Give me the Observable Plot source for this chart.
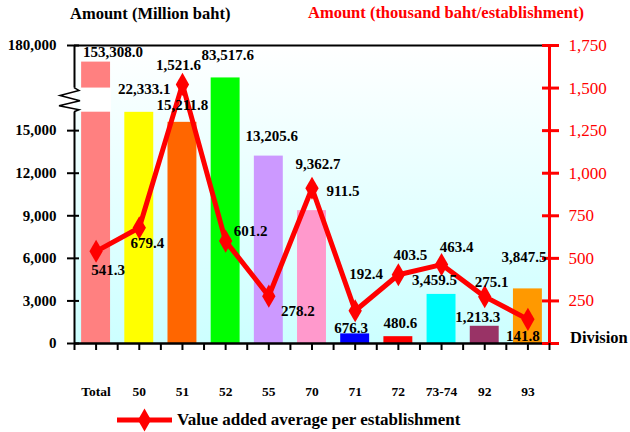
<!DOCTYPE html>
<html><head><meta charset="utf-8">
<script src="https://cdn.jsdelivr.net/npm/d3@7"></script>
<script src="https://cdn.jsdelivr.net/npm/@observablehq/plot@0.6"></script>
<style>
body{margin:0;background:#fff;}
#wrap{position:relative;width:630px;height:432px;font-family:"Liberation Serif","Times New Roman",serif;overflow:hidden;}
.t{position:absolute;font-weight:bold;white-space:nowrap;line-height:1;}
#wrap svg{position:absolute;left:0;top:0;}
</style></head><body><div id="wrap"></div>
<script>
// ---- data ----
const categories = ["Total","50","51","52","55","70","71","72","73-74","92","93"];
const valueAdded = [153308.0, 22333.1, 15211.8, 83517.6, 13205.6, 9362.7, 676.3, 480.6, 3459.5, 1213.3, 3847.5];          // million baht
const avgPerEstablishment = [541.3, 679.4, 1521.6, 601.2, 278.2, 911.5, 192.4, 403.5, 463.4, 275.1, 141.8]; // thousand baht/establishment
const barColors = ["#ff8080","#ffff00","#ff6600","#00ff00","#cc99ff","#ff99cc","#0000ff","#ff0000","#00ffff","#993366","#ff9900"];
const leftTicks = [0, 3000, 6000, 9000, 12000, 15000];
const leftTopTickLabel = "180,000";
const rightTicks = [0, 250, 500, 750, 1000, 1250, 1500, 1750];

// label nudges in px (layout only)
const barLabelNudge = [[17,-10],[5,-23],[0,-17],[2,-23],[3,-20],[6,-46],[-4,-6],[2,-13],[-7,-14],[-7,-9],[-4,-32]];
const avgLabelNudge = [[12,19],[8,15],[-4,-19],[25,-10],[29,15],[31,3],[11,-37],[12,-20],[15,-17],[7,-14],[-5,17]];

// ---- scale helpers ----
const leftMax = 21000;               // left axis extent (shown as broken "180,000")
const ratio = leftMax / 1750;        // left units per right-axis unit
const breakAt = 15000, breakLow = 16300, breakHigh = 18000;
// broken axis: linear up to 15,000, compressed (log) above the break
const brk = v => v <= breakAt ? v : breakAt + 560 + 4230 * Math.log10(v / breakAt);
const half = 0.335;

const data = categories.map((c, i) => ({i, cat: c, value: valueAdded[i], avg: avgPerEstablishment[i], color: barColors[i]}));
const fmt1 = d3.format(",.1f");
const bold = {fontWeight: "bold", fontSize: 15, fill: "black"};

const marks = [
  Plot.frame({fill: "url(#bgGrad)", stroke: "none"}),
  Plot.rectY(data, {x1: d => d.i - half, x2: d => d.i + half, y1: 0, y2: d => brk(d.value), fill: d => d.color}),
  Plot.rectY([data[0]], {x1: d => d.i - half - 0.02, x2: d => d.i + half + 0.02, y1: breakLow, y2: breakHigh, fill: "white"}),
  Plot.ruleY([leftMax], {stroke: "black", strokeWidth: 2}),
  Plot.ruleX([-0.5], {y1: 0, y2: breakLow, stroke: "black", strokeWidth: 2}),
  Plot.ruleX([-0.5], {y1: breakHigh, y2: leftMax, stroke: "black", strokeWidth: 2}),
  Plot.ruleY([0], {stroke: "black", strokeWidth: 2.5}),
  Plot.ruleX([10.5], {y1: 0, y2: leftMax, stroke: "red", strokeWidth: 3}),
  // left axis
  Plot.axisY({anchor: "left", label: null, ticks: leftTicks, tickSize: 12, dx: 5, tickPadding: 11, strokeWidth: 2,
    tickFormat: d3.format(","), fontSize: 15, fontWeight: "bold", color: "black"}),
  Plot.axisY({anchor: "left", label: null, ticks: [leftMax], tickSize: 12, dx: 5, tickPadding: 11, strokeWidth: 2,
    tickFormat: () => leftTopTickLabel, fontSize: 15, fontWeight: "bold", color: "black"}),
  // right axis (0 is left unlabeled, as in the original)
  Plot.axisY({anchor: "right", label: null, ticks: rightTicks.map(t => t * ratio), tickSize: 17, dx: -8, tickPadding: 10, strokeWidth: 3,
    tickFormat: d => d === 0 ? "" : d3.format(",")(Math.round(d / ratio)), fontSize: 17, color: "red"}),
  // bottom axis
  Plot.axisX({label: null, ticks: d3.range(-0.5, 10.51, 0.5), tickSize: 7, strokeWidth: 2, tickFormat: () => "", color: "black"}),
  Plot.axisX({label: null, ticks: d3.range(0, 11), tickSize: 0, tickPadding: 43, tickFormat: i => categories[i],
    fontSize: 13.5, fontWeight: "bold", color: "black"}),
  // line
  Plot.line(data, {x: "i", y: d => d.avg * ratio, stroke: "red", strokeWidth: 5, strokeLinejoin: "round"}),
  Plot.dot(data, {x: "i", y: d => d.avg * ratio, symbol: "diamond", r: 7, fill: "red", stroke: "none"}),
  ...data.map((d, k) => Plot.text([d], {x: "i", y: e => brk(e.value), text: e => fmt1(e.value),
    dx: barLabelNudge[k][0], dy: barLabelNudge[k][1], ...bold})),
  ...data.map((d, k) => Plot.text([d], {x: "i", y: e => e.avg * ratio, text: e => fmt1(e.avg),
    dx: avgLabelNudge[k][0], dy: avgLabelNudge[k][1], ...bold}))
];

const plot = Plot.plot({
  width: 630, height: 432, marginTop: 45, marginBottom: 89, marginLeft: 74, marginRight: 81,
  style: {fontFamily: '"Liberation Serif", "Times New Roman", serif', background: "transparent", overflow: "visible"},
  x: {type: "linear", domain: [-0.5, 10.5], axis: null, label: null},
  y: {type: "linear", domain: [0, leftMax], axis: null, label: null},
  color: {type: "identity"},
  marks
});

const svg = d3.select(plot);
// drop Plot's console-warning badge if any
svg.selectAll("text").filter(function () { return this.textContent.includes("\u26a0"); }).remove();

// gradient background definition
const grad = svg.insert("defs", ":first-child").append("linearGradient")
  .attr("id", "bgGrad").attr("x1", 0).attr("y1", 0).attr("x2", 0).attr("y2", 1);
grad.append("stop").attr("offset", 0).attr("stop-color", "#ffffff");
grad.append("stop").attr("offset", 1).attr("stop-color", "#ccffff");

// axis-break zigzag, positioned through the plot's scales
const sx = plot.scale("x"), sy = plot.scale("y");
const ax = sx.apply(-0.5), yTop = sy.apply(breakHigh), yBot = sy.apply(breakLow);
const hgt = yBot - yTop;
const zz = [[0,0],[5,0.12],[-14,0.33],[6,0.55],[-15,0.75],[5,0.92],[0,1]].map(([dx, f]) => [ax + dx, yTop + f * hgt]);
svg.append("path").attr("d", d3.line()(zz)).attr("fill", "none").attr("stroke", "black").attr("stroke-width", 1.5);

const wrap = document.getElementById("wrap");
wrap.appendChild(plot);

function addText(txt, left, top, size, color) {
  const el = document.createElement("div");
  el.className = "t";
  el.textContent = txt;
  el.style.left = left + "px"; el.style.top = top + "px";
  el.style.fontSize = size + "px"; el.style.color = color;
  wrap.appendChild(el);
}
addText("Amount (Million baht)", 70, 6, 16.5, "black");
addText("Amount (thousand baht/establishment)", 308, 5, 16.5, "#ff0000");
addText("Division", 570, 330, 16.5, "black");

// legend
const leg = d3.select(wrap).append("svg").attr("width", 630).attr("height", 432).style("pointer-events", "none");
leg.append("line").attr("x1", 117).attr("x2", 172).attr("y1", 420).attr("y2", 420).attr("stroke", "red").attr("stroke-width", 5);
leg.append("path").attr("d", d3.symbol(d3.symbolDiamond, 150)()).attr("transform", "translate(144.5,420)").attr("fill", "red");
addText("Value added average per establishment", 177, 411, 17, "black");
</script>
</body></html>
